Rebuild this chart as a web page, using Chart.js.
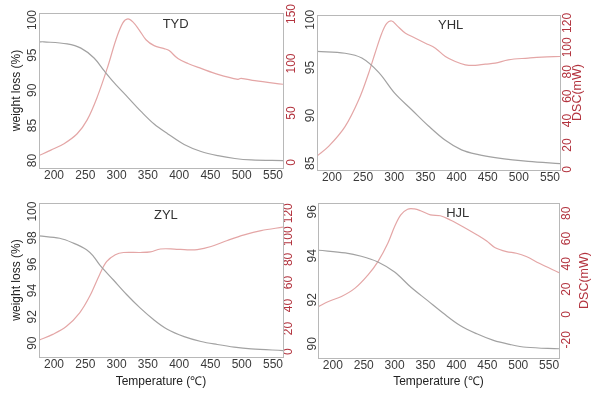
<!DOCTYPE html>
<html>
<head>
<meta charset="utf-8">
<script src="https://cdn.jsdelivr.net/npm/chart.js@4"></script>
<style>
  html, body { margin: 0; padding: 0; background: #fff; }
  #wrap { position: relative; width: 595px; height: 395px; overflow: hidden; }
  canvas { position: absolute; }
</style>
</head>
<body>
<div id="wrap">
  <canvas id="c1" width="298" height="190" style="left:0;top:0"></canvas>
  <canvas id="c2" width="297" height="190" style="left:298px;top:0"></canvas>
  <canvas id="c3" width="298" height="205" style="left:0;top:190px"></canvas>
  <canvas id="c4" width="297" height="205" style="left:298px;top:190px"></canvas>
</div>
<script>
// temperature ticks shared by every panel
const tempTicks = [200, 250, 300, 350, 400, 450, 500, 550];

// TYD
const tydWeightT = [176, 184, 221, 243, 264, 280, 296, 318, 339, 360, 382, 408, 435, 462, 489, 515, 566];
const tydWeight  = [96.9, 96.9, 96.6, 96.0, 94.6, 92.8, 91.1, 89.0, 87.0, 85.2, 83.8, 82.3, 81.3, 80.7, 80.3, 80.1, 80.0];
const tydDscT = [176, 195, 216, 237, 253, 269, 286, 299, 310, 318, 326, 336, 347, 360, 376, 384, 398, 414, 435, 462, 494, 499, 521, 566];
const tydDsc  = [7, 12.5, 19, 29, 43, 66, 97, 124, 141, 145, 142, 134, 124, 118, 115, 113, 105, 100, 95, 89, 84, 85, 82.6, 79];
const tydWeightTicks = [80, 85, 90, 95, 100];
const tydDscTicks = [0, 50, 100, 150];

// YHL
const yhlWeightT = [176, 221, 248, 275, 301, 328, 355, 382, 408, 435, 462, 515, 566];
const yhlWeight  = [96.7, 96.5, 96.0, 94.5, 92.3, 90.6, 88.9, 87.4, 86.4, 85.9, 85.6, 85.2, 84.97];
const yhlDscT = [176, 195, 221, 243, 259, 269, 280, 288, 296, 304, 318, 334, 350, 366, 382, 398, 414, 430, 446, 462, 483, 515, 537, 566];
const yhlDsc  = [10.9, 19, 35, 57, 79, 95, 111.6, 119.7, 121.6, 118, 111.6, 107.5, 103.4, 99.3, 92.5, 88.4, 85.7, 85.2, 86.3, 87, 89.8, 91.2, 92, 92.5];
const yhlWeightTicks = [85, 90, 95, 100];
const yhlDscTicks = [0, 20, 40, 60, 80, 100, 120];

// ZYL
const zylWeightT = [176, 209, 231, 252, 263, 273, 295, 316, 338, 359, 381, 408, 435, 461, 488, 515, 566];
const zylWeight  = [98.15, 97.97, 97.6, 97.1, 96.6, 95.95, 94.8, 93.7, 92.66, 91.8, 91.06, 90.5, 90.13, 89.9, 89.7, 89.57, 89.44];
const zylDscT = [176, 198, 220, 241, 257, 273, 284, 298, 311, 338, 354, 370, 392, 413, 429, 451, 477, 504, 531, 566];
const zylDsc  = [10, 15, 22, 33.7, 48, 67, 78, 84, 86, 86, 86.5, 89, 89, 88.3, 88.5, 91.2, 96.4, 101.3, 105, 108];
const zylWeightTicks = [90, 92, 94, 96, 98, 100];
const zylDscTicks = [0, 20, 40, 60, 80, 100, 120];

// HJL
const hjlWeightT = [177, 220, 246, 273, 300, 326, 353, 380, 406, 433, 460, 486, 513, 566];
const hjlWeight  = [94.25, 94.13, 93.98, 93.72, 93.26, 92.58, 91.97, 91.36, 90.83, 90.45, 90.15, 89.97, 89.84, 89.77];
const hjlDscT = [177, 193, 214, 236, 257, 273, 289, 300, 310, 321, 332, 342, 358, 374, 390, 412, 433, 449, 462, 481, 497, 513, 534, 566];
const hjlDsc  = [6.3, 10.3, 14.2, 20.8, 31.3, 41.8, 56.3, 69.5, 78.7, 83.2, 83.4, 82, 78.7, 78, 74.7, 69, 63, 58, 53, 49.7, 48.4, 45.8, 40.5, 33];
const hjlWeightTicks = [90, 92, 94, 96];
const hjlDscTicks = [-20, 0, 20, 40, 60, 80];

const FONT = "'Liberation Sans', Arial, sans-serif";
const GREY_LINE = '#a2a2a2';
const RED_LINE = '#e4a6a6';
const RED_TEXT = '#b3343f';
const DARK_TEXT = '#3a3a3a';

const pairs = (xs, ys) => xs.map((x, i) => ({ x: x, y: ys[i] }));

// frame, panel name and right axis title
const panelDecor = {
    id: 'panelDecor',
    afterDraw(chart, args, opts) {
        const ctx = chart.ctx;
        const a = chart.chartArea;
        ctx.save();
        ctx.strokeStyle = '#b8b8b8';
        ctx.lineWidth = 1;
        ctx.strokeRect(Math.round(a.left) + 0.5, Math.round(a.top) + 0.5,
            Math.round(a.right - a.left), Math.round(a.bottom - a.top));

        ctx.fillStyle = '#333';
        ctx.font = '13px ' + FONT;
        ctx.textAlign = 'center';
        ctx.textBaseline = 'middle';
        ctx.fillText(opts.name, a.left + opts.nameX * (a.right - a.left), a.top + opts.nameY);

        if (opts.dscTitle) {
            ctx.translate(a.right + opts.dscOffset, (a.top + a.bottom) / 2);
            ctx.rotate(-Math.PI / 2);
            ctx.fillStyle = RED_TEXT;
            ctx.font = '12.5px ' + FONT;
            ctx.fillText('DSC(mW)', 0, 0);
        }
        ctx.restore();
    }
};

function makePanel(id, p) {
    const ctx = document.getElementById(id).getContext('2d');
    return new Chart(ctx, {
        type: 'line',
        data: {
            datasets: [
                {
                    label: 'weight loss',
                    data: pairs(p.weightT, p.weight),
                    yAxisID: 'y',
                    borderColor: GREY_LINE,
                    borderWidth: 1.2,
                    pointRadius: 0,
                    tension: 0.35,
                    fill: false
                },
                {
                    label: 'DSC',
                    data: pairs(p.dscT, p.dsc),
                    yAxisID: 'y2',
                    borderColor: RED_LINE,
                    borderWidth: 1.2,
                    pointRadius: 0,
                    tension: 0.35,
                    fill: false
                }
            ]
        },
        options: {
            responsive: false,
            animation: false,
            devicePixelRatio: 1,
            layout: { padding: { top: p.top, left: 0, right: 0, bottom: 0 } },
            plugins: {
                legend: { display: false },
                tooltip: { enabled: false },
                panelDecor: {
                    name: p.name, nameX: p.nameX, nameY: p.nameY,
                    dscTitle: p.dscTitle, dscOffset: p.dscOffset
                }
            },
            scales: {
                x: {
                    type: 'linear',
                    min: 176,
                    max: 566,
                    afterBuildTicks: s => { s.ticks = tempTicks.map(v => ({ value: v })); },
                    afterFit: s => { s.height = p.xHeight; },
                    grid: { display: false, drawTicks: false },
                    border: { display: false },
                    ticks: { padding: 0, color: DARK_TEXT, font: { family: FONT, size: 12 } },
                    title: {
                        display: p.xTitle,
                        text: 'Temperature (\u2103)',
                        color: '#222',
                        font: { family: FONT, size: 12 },
                        padding: { top: 0, bottom: 6 }
                    }
                },
                y: {
                    position: 'left',
                    min: p.wMin,
                    max: p.wMax,
                    afterBuildTicks: s => { s.ticks = p.weightTicks.map(v => ({ value: v })); },
                    afterFit: s => { s.width = p.leftW; },
                    grid: { display: false, drawTicks: false },
                    border: { display: false },
                    ticks: {
                        minRotation: 90, maxRotation: 90, crossAlign: 'center',
                        padding: p.leftPad, color: DARK_TEXT, font: { family: FONT, size: 12 }
                    },
                    title: {
                        display: p.yTitle,
                        text: 'weight loss (%)',
                        color: '#222',
                        font: { family: FONT, size: 12 },
                        padding: { top: 9, bottom: 0 }
                    }
                },
                y2: {
                    position: 'right',
                    min: p.dMin,
                    max: p.dMax,
                    afterBuildTicks: s => { s.ticks = p.dscTicks.map(v => ({ value: v })); },
                    afterFit: s => { s.width = p.rightW; },
                    grid: { display: false, drawTicks: false },
                    border: { display: false },
                    ticks: {
                        minRotation: 90, maxRotation: 90, crossAlign: 'center',
                        padding: p.rightPad, color: RED_TEXT, font: { family: FONT, size: 12 }
                    }
                }
            }
        },
        plugins: [panelDecor]
    });
}

makePanel('c1', {
    name: 'TYD', nameX: 0.56, nameY: 11, dscTitle: false,
    weightT: tydWeightT, weight: tydWeight, dscT: tydDscT, dsc: tydDsc,
    weightTicks: tydWeightTicks, dscTicks: tydDscTicks,
    wMin: 78.95, wMax: 101, dMin: -5.6, dMax: 151,
    top: 13, xHeight: 22, leftW: 39, rightW: 15, leftPad: -4, rightPad: -1.5,
    xTitle: false, yTitle: true
});

makePanel('c2', {
    name: 'YHL', nameX: 0.55, nameY: 10, dscTitle: true, dscOffset: 18,
    weightT: yhlWeightT, weight: yhlWeight, dscT: yhlDscT, dsc: yhlDsc,
    weightTicks: yhlWeightTicks, dscTicks: yhlDscTicks,
    wMin: 84.3, wMax: 100.5, dMin: -0.5, dMax: 126.5,
    top: 15, xHeight: 20, leftW: 19, rightW: 35, leftPad: -4, rightPad: -2.5,
    xTitle: false, yTitle: false
});

makePanel('c3', {
    name: 'ZYL', nameX: 0.52, nameY: 12, dscTitle: false,
    weightT: zylWeightT, weight: zylWeight, dscT: zylDscT, dsc: zylDsc,
    weightTicks: zylWeightTicks, dscTicks: zylDscTicks,
    wMin: 88.95, wMax: 100.65, dMin: -4.6, dMax: 128.9,
    top: 13, xHeight: 38, leftW: 39, rightW: 15, leftPad: -4, rightPad: -4,
    xTitle: true, yTitle: true
});

makePanel('c4', {
    name: 'HJL', nameX: 0.58, nameY: 10, dscTitle: true, dscOffset: 26,
    weightT: hjlWeightT, weight: hjlWeight, dscT: hjlDscT, dsc: hjlDsc,
    weightTicks: hjlWeightTicks, dscTicks: hjlDscTicks,
    wMin: 89.35, wMax: 96.4, dMin: -34.4, dMax: 88.1,
    top: 13, xHeight: 37, leftW: 20, rightW: 36, leftPad: -1, rightPad: -0.7,
    xTitle: true, yTitle: false
});
</script>
</body>
</html>
